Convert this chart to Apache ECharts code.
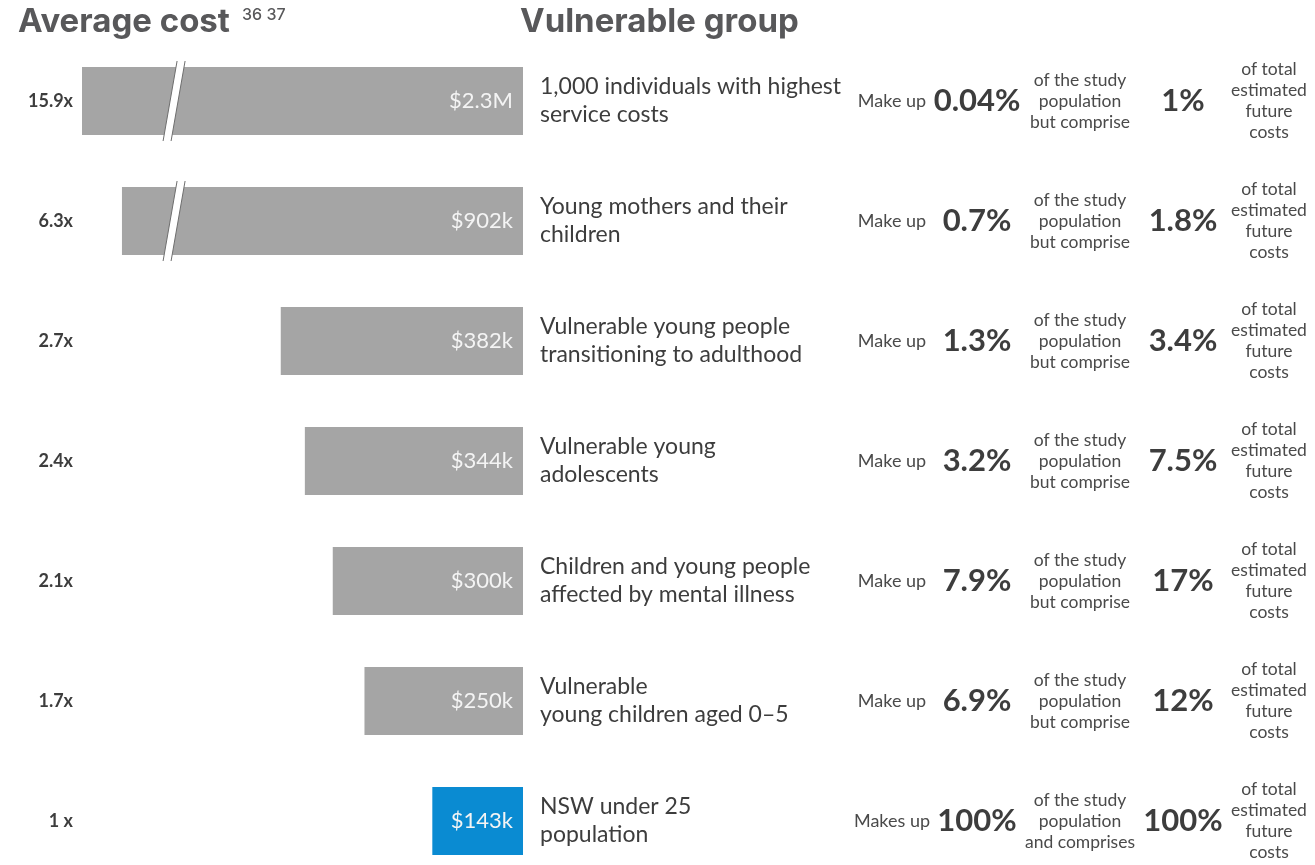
<!DOCTYPE html>
<html>
<head>
<meta charset="utf-8">
<script src="https://cdn.jsdelivr.net/npm/echarts@6/dist/echarts.min.js"></script>
<style>
  html, body { margin: 0; padding: 0; background: #fff; }
  #chart { width: 1315px; height: 865px; }
</style>
</head>
<body>
<div id="chart"></div>
<script>
// Vulnerable groups, top to bottom
const groups = [
  '1,000 individuals with highest\nservice costs',
  'Young mothers and their\nchildren',
  'Vulnerable young people\ntransitioning to adulthood',
  'Vulnerable young\nadolescents',
  'Children and young people\naffected by mental illness',
  'Vulnerable\nyoung children aged 0\u20135',
  'NSW under 25\npopulation'
];
// Average cost per person, $ thousands
const avgCost = [2300, 902, 382, 344, 300, 250, 143];
// Cost multiple relative to the NSW under-25 average
const multipleLabels = ['15.9x', '6.3x', '2.7x', '2.4x', '2.1x', '1.7x', '1 x'];
// Share of the study population (%)
const popShare = [0.04, 0.7, 1.3, 3.2, 7.9, 6.9, 100];
// Share of total estimated future costs (%)
const costShare = [1, 1.8, 3.4, 7.5, 17, 12, 100];
const verbText = ['Make up', 'Make up', 'Make up', 'Make up', 'Make up', 'Make up', 'Makes up'];
const linkText = [
  'of the study\npopulation\nbut comprise',
  'of the study\npopulation\nbut comprise',
  'of the study\npopulation\nbut comprise',
  'of the study\npopulation\nbut comprise',
  'of the study\npopulation\nbut comprise',
  'of the study\npopulation\nbut comprise',
  'of the study\npopulation\nand comprises'
];
const tailText = 'of total\nestimated\nfuture\ncosts';

// Cost axis breaks (k$): the long bars are shortened
const costBreaks = [
  { start: 545, end: 825, gap: '1.5%' },
  { start: 915, end: 2250, gap: 0 }
];

const FONT = 'Lato, "Open Sans", sans-serif';
const HEAD_FONT = 'Inter, Lato, sans-serif';
const TEXT = '#3d3d3d';
const SOFT = '#4a4a4a';
const GREY = '#a5a5a5';
const BLUE = '#0a8bd2';

const fmtCost = v => v >= 1000 ? '$' + (v / 1000).toFixed(1) + 'M' : '$' + v + 'k';
const fmtPct = v => v + '%';

// break markers sit in the middle of the first break, on bars that cross it
const firstBreak = costBreaks[0];
const breakMarks = avgCost
  .map((v, i) => [ (firstBreak.start + firstBreak.end) / 2, i, v ])
  .filter(d => d[2] > firstBreak.end);

function textAxis(margin, formatter, style) {
  return {
    type: 'category', data: groups, inverse: true, position: 'right', offset: 0,
    axisLine: { show: false }, axisTick: { show: false }, splitLine: { show: false },
    axisLabel: Object.assign({
      interval: 0, margin: margin, align: 'center', formatter: formatter,
      fontFamily: FONT, color: TEXT
    }, style)
  };
}

const chart = echarts.init(document.getElementById('chart'));
chart.setOption({
  animation: false,
  backgroundColor: '#ffffff',
  graphic: [
    { type: 'text', left: 18, top: 6,
      style: { text: 'Average cost', font: 'bold 33px ' + HEAD_FONT, fill: '#58585a' } },
    { type: 'text', left: 242, top: 7,
      style: { text: '36 37', font: '500 16px ' + HEAD_FONT, fill: '#58585a' } },
    { type: 'text', left: 520, top: 6,
      style: { text: 'Vulnerable group', font: 'bold 33px ' + HEAD_FONT, fill: '#58585a' } }
  ],
  grid: { left: 82, right: 792, top: 41, height: 840, outerBoundsMode: 'none', containLabel: false },
  xAxis: {
    type: 'value', inverse: true, min: 0, max: 2300, show: false,
    breaks: costBreaks,
    breakArea: { show: false }
  },
  yAxis: [
    {
      type: 'category', data: groups, inverse: true, position: 'left',
      axisLine: { show: false }, axisTick: { show: false }, splitLine: { show: false },
      axisLabel: {
        interval: 0, margin: 9, formatter: (v, i) => multipleLabels[i],
        fontFamily: FONT, fontWeight: 'bold', fontSize: 18, color: TEXT
      }
    },
    textAxis(17, v => v, { align: 'left', fontSize: 23, lineHeight: 28 }),
    textAxis(369, (v, i) => verbText[i], { fontSize: 18, color: SOFT }),
    textAxis(454, (v, i) => fmtPct(popShare[i]), { fontSize: 31, fontWeight: 'bold' }),
    textAxis(557, (v, i) => linkText[i], { fontSize: 17.5, lineHeight: 21, color: SOFT }),
    textAxis(660, (v, i) => fmtPct(costShare[i]), { fontSize: 31, fontWeight: 'bold' }),
    textAxis(746, () => tailText, { fontSize: 17.5, lineHeight: 21, color: SOFT })
  ],
  series: [
    {
      type: 'bar', xAxisIndex: 0, yAxisIndex: 0, barWidth: 68,
      data: avgCost,
      itemStyle: { color: p => p.dataIndex === avgCost.length - 1 ? BLUE : GREY },
      label: {
        show: true, position: 'insideRight', distance: 10,
        formatter: p => fmtCost(p.value),
        fontFamily: FONT, fontSize: 22, color: '#f4f4f4'
      }
    },
    {
      type: 'custom', xAxisIndex: 0, yAxisIndex: 0, z: 5,
      data: breakMarks,
      encode: { x: 0, y: 1 },
      renderItem: (params, api) => {
        const c = api.coord([api.value(0), api.value(1)]);
        const hh = 40, slant = 7, w = 4;
        const tl = [c[0] + slant - w, c[1] - hh], tr = [c[0] + slant + w, c[1] - hh];
        const bl = [c[0] - slant - w, c[1] + hh], br = [c[0] - slant + w, c[1] + hh];
        return {
          type: 'group',
          children: [
            { type: 'polygon', shape: { points: [tl, tr, br, bl] }, style: { fill: '#ffffff' } },
            { type: 'line', shape: { x1: tl[0], y1: tl[1], x2: bl[0], y2: bl[1] },
              style: { stroke: '#6e6e6e', lineWidth: 1 } },
            { type: 'line', shape: { x1: tr[0], y1: tr[1], x2: br[0], y2: br[1] },
              style: { stroke: '#6e6e6e', lineWidth: 1 } }
          ]
        };
      }
    }
  ]
});
</script>
</body>
</html>
